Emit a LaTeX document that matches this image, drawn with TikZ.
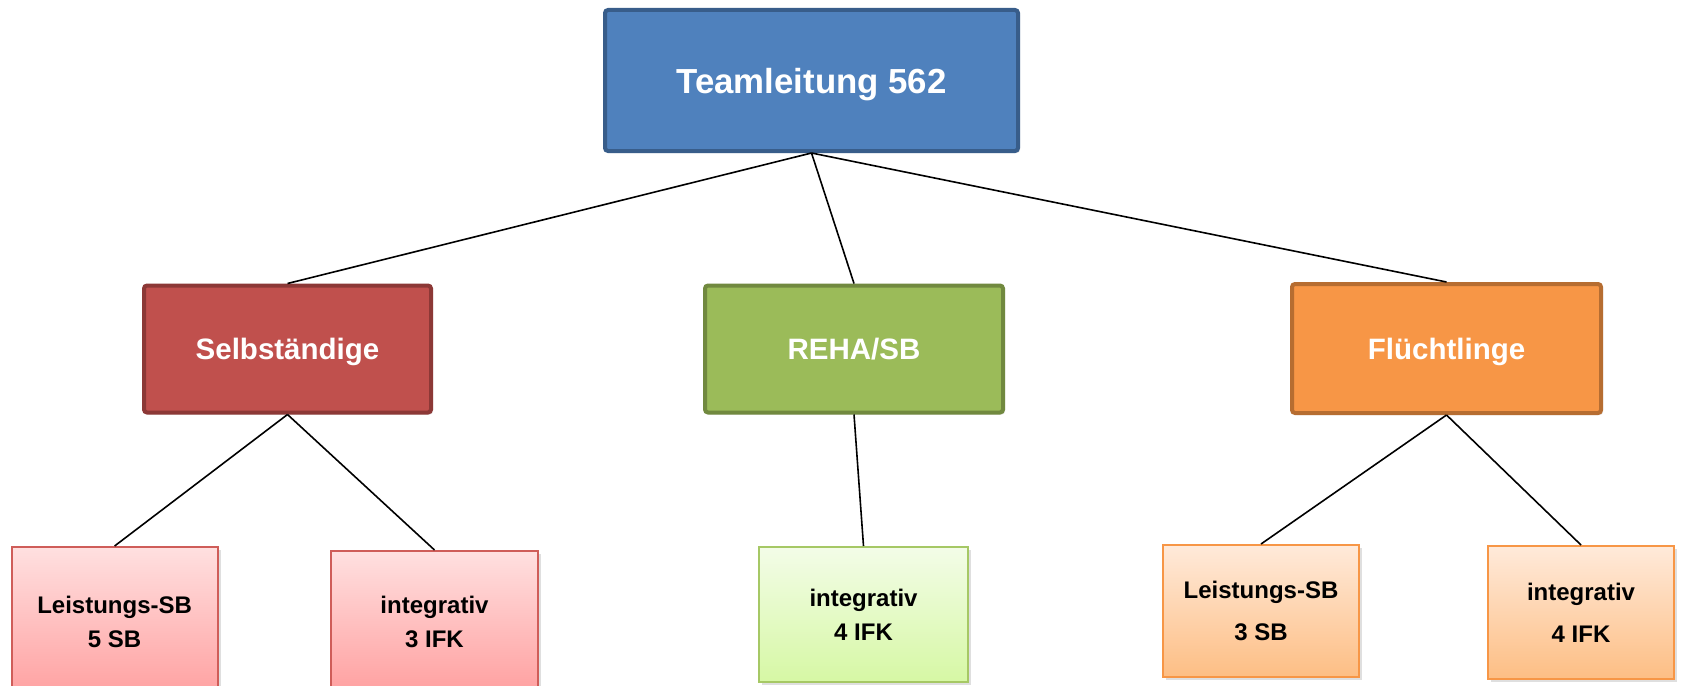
\documentclass[tikz,border=0pt]{standalone}
\usepackage{fontspec}
\setmainfont{Liberation Sans}
\usepackage{xcolor}
\usetikzlibrary{shadows}

\definecolor{tlfill}{HTML}{4F81BD}
\definecolor{tldraw}{HTML}{385D8A}
\definecolor{sefill}{HTML}{C0504D}
\definecolor{sedraw}{HTML}{8C3836}
\definecolor{refill}{HTML}{9BBB59}
\definecolor{redraw}{HTML}{71893F}
\definecolor{flfill}{HTML}{F79646}
\definecolor{fldraw}{HTML}{B66D31}

\tikzset{
  head/.style={rectangle, rounded corners=3pt, line width=4pt, inner sep=0pt,
    text=white, text depth=0pt, font=\bfseries\fontsize{29.5}{34}\selectfont,
    drop shadow={opacity=0.2, shadow xshift=2pt, shadow yshift=-2pt}},
  leaf/.style={rectangle, line width=2pt, inner sep=0pt, align=center,
    text=black, font=\bfseries\fontsize{24}{34}\selectfont,
    drop shadow={opacity=0.25, shadow xshift=3pt, shadow yshift=-3pt}},
  redleaf/.style={leaf, draw={rgb,255:red,207;green,93;blue,89},
    top color={rgb,255:red,255;green,224;blue,224},
    bottom color={rgb,255:red,255;green,160;blue,160}},
  greenleaf/.style={leaf, draw={rgb,255:red,166;green,200;blue,101},
    top color={rgb,255:red,243;green,252;blue,232},
    bottom color={rgb,255:red,214;green,248;blue,164}},
  orangeleaf/.style={leaf, draw={rgb,255:red,247;green,150;blue,70},
    top color={rgb,255:red,255;green,234;blue,218},
    bottom color={rgb,255:red,253;green,190;blue,132},
    font=\bfseries\fontsize{24}{42}\selectfont},
  link/.style={draw=black, line width=1.6pt}
}

\begin{document}
\begin{tikzpicture}[x=1pt,y=-1pt]
  \useasboundingbox (0,0) rectangle (1688,685);

  \node (tl) [head, fill=tlfill, draw=tldraw, minimum width=413pt, minimum height=141pt,
    font=\bfseries\fontsize{34.8}{40}\selectfont] at (811.5,80.5) {Teamleitung 562};

  \node (se) [head, fill=sefill, draw=sedraw, minimum width=287pt, minimum height=127pt]
    at (287.5,349) {Selbständige};
  \node (re) [head, fill=refill, draw=redraw, minimum width=298pt, minimum height=127pt]
    at (854,349) {REHA/SB};
  \node (fl) [head, fill=flfill, draw=fldraw, minimum width=309pt, minimum height=129pt]
    at (1446.5,348.5) {Flüchtlinge};

  \node (selsb) [redleaf, minimum width=206pt, minimum height=150pt]
    at (114.6,622) {Leistungs-SB\\5 SB};
  \node (seint) [redleaf, minimum width=207pt, minimum height=142pt]
    at (434.5,622) {integrativ\\3 IFK};
  \node (reint) [greenleaf, minimum width=209pt, minimum height=135pt]
    at (863.5,614.5) {integrativ\\4 IFK};
  \node (fllsb) [orangeleaf, minimum width=196pt, minimum height=132pt]
    at (1261,611) {Leistungs-SB\\3 SB};
  \node (flint) [orangeleaf, minimum width=186pt, minimum height=133pt]
    at (1581,612.5) {integrativ\\4 IFK};

  \draw[link] (tl.south) -- (se.north);
  \draw[link] (tl.south) -- (re.north);
  \draw[link] (tl.south) -- (fl.north);
  \draw[link] (se.south) -- (selsb.north);
  \draw[link] (se.south) -- (seint.north);
  \draw[link] (re.south) -- (reint.north);
  \draw[link] (fl.south) -- (fllsb.north);
  \draw[link] (fl.south) -- (flint.north);
\end{tikzpicture}
\end{document}
